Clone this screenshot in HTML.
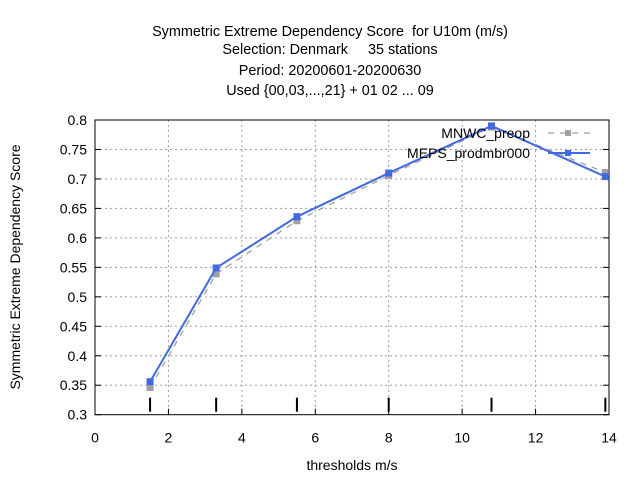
<!DOCTYPE html>
<html><head><meta charset="utf-8"><style>
body{margin:0;background:#fff}
svg text{font-family:"Liberation Sans",sans-serif;font-size:14px;fill:#000;white-space:pre}
.tt{font-size:14.4px}
</style></head><body>
<svg width="640" height="480" xmlns="http://www.w3.org/2000/svg">
<g text-anchor="middle">
<text class="tt" x="330" y="36">Symmetric Extreme Dependency Score  for U10m (m/s)</text>
<text class="tt" x="330" y="54">Selection: Denmark     35 stations</text>
<text class="tt" x="330" y="75">Period: 20200601-20200630</text>
<text class="tt" x="330" y="95">Used {00,03,...,21} + 01 02 ... 09</text>
</g>
<g id="grid"></g>
<g id="axes"></g>
<g id="series"></g>
<text x="352" y="470" text-anchor="middle">thresholds m/s</text>
<text transform="translate(20,267) rotate(-90)" text-anchor="middle">Symmetric Extreme Dependency Score</text>
<g>
<text x="530" y="138" text-anchor="end">MNWC_preop</text>
<line x1="548" y1="133" x2="590" y2="133" stroke="#a0a0a0" stroke-width="1.3" stroke-dasharray="6,6"/>
<rect x="565" y="130" width="6" height="6" fill="#a0a0a0"/>
<text x="530" y="158" text-anchor="end">MEPS_prodmbr000</text>
<line x1="548" y1="153" x2="590" y2="153" stroke="#4169e1" stroke-width="2"/>
<rect x="565" y="150" width="6" height="6" fill="#4169e1"/>
</g>
</svg>
<script>
const thresholds=[1.5,3.3,5.5,8.0,10.8,13.9];
const mnwc=[0.346,0.539,0.629,0.706,0.788,0.711];
const meps=[0.356,0.549,0.636,0.710,0.790,0.704];
const xTicks=[0,2,4,6,8,10,12,14];
const yTicks=[0.3,0.35,0.4,0.45,0.5,0.55,0.6,0.65,0.7,0.75,0.8];
const L=95,R=609,T=120,B=414.7;
const xs=v=>L+(v-0)/(14-0)*(R-L);
const ys=v=>B-(v-0.3)/(0.8-0.3)*(B-T);
const NS='http://www.w3.org/2000/svg';
function mk(p,tag,at){const e=document.createElementNS(NS,tag);for(const k in at)e.setAttribute(k,at[k]);p.appendChild(e);return e;}
const grid=document.getElementById('grid'),axes=document.getElementById('axes'),ser=document.getElementById('series');
xTicks.forEach(t=>{const x=xs(t);
 if(t>0&&t<14){const g=mk(grid,'line',{x1:x,y1:T,x2:x,y2:B,stroke:'#a0a0a0','stroke-dasharray':'2,3'});
 
 }
 const tl=mk(axes,'line',{x1:x,y1:B,x2:x,y2:B-6,stroke:'#000'});
 
 
 const tx=mk(axes,'text',{x:x,y:B+28,'text-anchor':'middle'});tx.textContent=String(t);
 
 
});
yTicks.forEach(t=>{const y=ys(t);
 if(t>0.3&&t<0.8){const g=mk(grid,'line',{x1:L,y1:y,x2:R,y2:y,stroke:'#a0a0a0','stroke-dasharray':'2,3'});
 
 }
 mk(axes,'line',{x1:L,y1:y,x2:L+6,y2:y,stroke:'#000'});
 mk(axes,'line',{x1:R,y1:y,x2:R-6,y2:y,stroke:'#000'});
 const tx=mk(axes,'text',{x:L-8,y:y+5,'text-anchor':'end'});tx.textContent=String(t);
 
 
});
const fr=mk(axes,'rect',{x:L,y:T,width:R-L,height:B-T,fill:'none',stroke:'#000'});


thresholds.forEach(t=>{const m=mk(axes,'line',{x1:xs(t),y1:B-17,x2:xs(t),y2:B-3,stroke:'#000','stroke-width':2});
 
 });
function series(vals,col,w,dash,name){
 const pts=thresholds.map((t,i)=>xs(t)+','+ys(vals[i])).join(' ');
 const pl=mk(ser,'polyline',{points:pts,fill:'none',stroke:col,'stroke-width':w});
 if(dash)pl.setAttribute('stroke-dasharray',dash);
 
 
 thresholds.forEach((t,i)=>{const r=mk(ser,'rect',{x:xs(t)-3.5,y:ys(vals[i])-3.5,width:7,height:7,fill:col});
  
  });
}
series(mnwc,'#a0a0a0',1.3,'6,6','mnwc');
series(meps,'#4169e1',2,null,'meps');
</script>
</body></html>
